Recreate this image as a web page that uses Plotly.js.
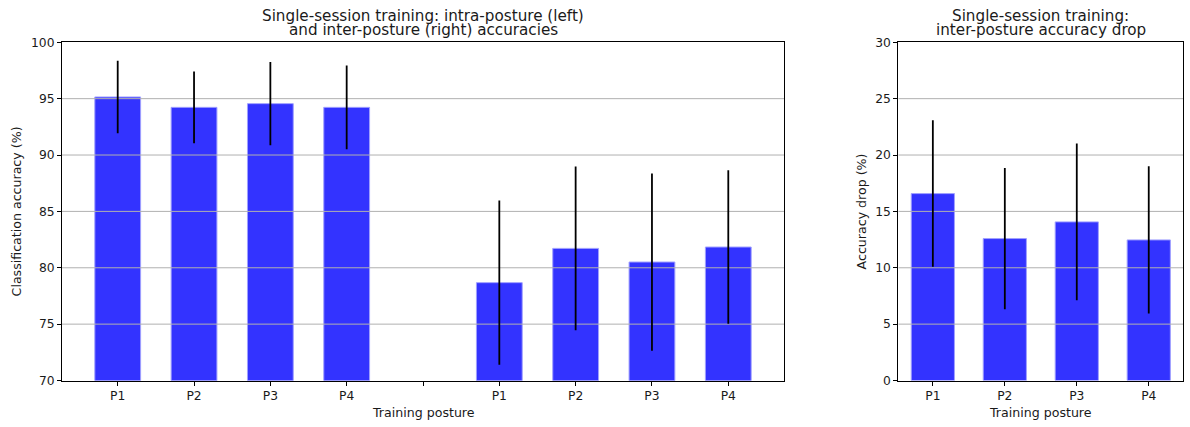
<!DOCTYPE html>
<html>
<head>
<meta charset="utf-8">
<script src="https://cdn.plot.ly/plotly-3.0.1.min.js"></script>
<style>html,body{margin:0;padding:0;background:#fff;}#chart{width:1190px;height:427px;}</style>
</head>
<body>
<div id="chart"></div>
<script>
// ---- data ----
var postures = ['P1', 'P2', 'P3', 'P4'];
var intraMean = [95.15, 94.23, 94.56, 94.23];
var intraErr  = [3.22, 3.19, 3.69, 3.72];
var interMean = [78.68, 81.72, 80.51, 81.84];
var interErr  = [7.28, 7.26, 7.86, 6.80];
var dropMean  = [16.58, 12.59, 14.07, 12.47];
var dropErr   = [6.50, 6.27, 6.96, 6.53];
var leftYTicks  = [70, 75, 80, 85, 90, 95, 100];
var rightYTicks = [0, 5, 10, 15, 20, 25, 30];
var leftTitleLines  = ['Single-session training: intra-posture (left)', 'and inter-posture (right) accuracies'];
var rightTitleLines = ['Single-session training:', 'inter-posture accuracy drop'];
var xLabel = 'Training posture';
var leftYLabel = 'Classification accuracy (%)';
var rightYLabel = 'Accuracy drop (%)';

// ---- positions derived from indices ----
var intraX = postures.map(function (_, i) { return i; });
var gapX = postures.length;                       // empty slot between groups
var interX = postures.map(function (_, i) { return i + postures.length + 1; });
var leftTickVals = intraX.concat([gapX]).concat(interX);
var leftTickText = postures.concat(['']).concat(postures);
var dropX = postures.map(function (_, i) { return i; });

var FONT = 'DejaVu Sans, sans-serif';
var barColor = '#3333ff';
var barEdge = 'rgba(160,160,255,1)';
var barW = 0.6;

function barTrace(x, y, xa, ya) {
  return {
    type: 'bar', x: x, y: y, xaxis: xa, yaxis: ya, width: barW,
    marker: { color: barColor, line: { color: barEdge, width: 1 } },
    hoverinfo: 'skip', showlegend: false
  };
}
function errTrace(x, y, e, xa, ya) {
  return {
    type: 'scatter', mode: 'markers', x: x, y: y, xaxis: xa, yaxis: ya,
    marker: { size: 1, opacity: 0 },
    error_y: { type: 'data', array: e, visible: true, color: '#000', thickness: 1.8, width: 0 },
    hoverinfo: 'skip', showlegend: false
  };
}

var traces = [
  barTrace(intraX, intraMean, 'x', 'y'),
  barTrace(interX, interMean, 'x', 'y'),
  barTrace(dropX, dropMean, 'x2', 'y2')
];

// grid lines drawn as traces so that they sit above bars but below error bars
function gridTrace(vals, range, xa, ya) {
  var xs = [], ys = [];
  vals.forEach(function (v) { xs.push(range[0], range[1], null); ys.push(v, v, null); });
  return { type: 'scatter', mode: 'lines', x: xs, y: ys, xaxis: xa, yaxis: ya,
    line: { color: '#b0b0b0', width: 1 }, hoverinfo: 'skip', showlegend: false };
}
var leftXRange = [-0.73, leftTickVals[leftTickVals.length - 1] + 0.73];
var rightXRange = [-0.48, dropX[dropX.length - 1] + 0.48];
traces.push(gridTrace(leftYTicks.slice(1, -1), leftXRange, 'x', 'y'));
traces.push(gridTrace(rightYTicks.slice(1, -1), rightXRange, 'x2', 'y2'));
traces.push(errTrace(intraX, intraMean, intraErr, 'x', 'y'));
traces.push(errTrace(interX, interMean, interErr, 'x', 'y'));
traces.push(errTrace(dropX, dropMean, dropErr, 'x2', 'y2'));

var W = 1190, H = 427;
var yDom = [1 - 380.5 / H, 1 - 42.3 / H];
var TEXT = '#1a1a1a';
var axCommon = {
  showline: true, mirror: true, linecolor: '#000', linewidth: 1,
  ticks: 'outside', ticklen: 4, tickwidth: 1, tickcolor: '#000',
  showgrid: false, zeroline: false, fixedrange: true,
  tickfont: { family: FONT, size: 12.3, color: TEXT }
};
function ax(extra) { return Object.assign({}, axCommon, extra); }

var textFont = { family: FONT, size: 12.6, color: TEXT };
var titleFont = { family: FONT, size: 15.2, color: TEXT };
var leftCx = ((62 + 784) / 2) / W, rightCx = ((898.3 + 1183.3) / 2) / W;

function ann(text, x, ypx, font, extra) {
  return Object.assign({ text: text, xref: 'paper', yref: 'paper', x: x, y: 1 - ypx / H,
    xanchor: 'center', yanchor: 'middle', showarrow: false, font: font }, extra || {});
}

var layout = {
  width: W, height: H,
  margin: { l: 0, r: 0, t: 0, b: 0 },
  paper_bgcolor: '#fff', plot_bgcolor: '#fff',
  showlegend: false, barmode: 'overlay',
  xaxis: ax({ domain: [62 / W, 784 / W], range: leftXRange, tickmode: 'array',
    tickvals: leftTickVals, ticktext: leftTickText, anchor: 'y' }),
  yaxis: ax({ domain: yDom, range: [70, 100], tickmode: 'array', tickvals: leftYTicks, anchor: 'x' }),
  xaxis2: ax({ domain: [898.3 / W, 1183.3 / W], range: rightXRange, tickmode: 'array',
    tickvals: dropX, ticktext: postures, anchor: 'y2' }),
  yaxis2: ax({ domain: yDom, range: [0, 30], tickmode: 'array', tickvals: rightYTicks, anchor: 'x2' }),
  annotations: [
    ann(leftTitleLines[0], leftCx, 15.5, titleFont),
    ann(leftTitleLines[1], leftCx, 29.8, titleFont),
    ann(rightTitleLines[0], rightCx, 15.5, titleFont),
    ann(rightTitleLines[1], rightCx, 29.8, titleFont),
    ann(xLabel, leftCx, 412, textFont),
    ann(xLabel, rightCx, 412, textFont),
    ann(leftYLabel, 16 / W, (380.5 + 42.3) / 2, textFont, { textangle: -90 }),
    ann(rightYLabel, 861 / W, (380.5 + 42.3) / 2, textFont, { textangle: -90 })
  ]
};

Plotly.newPlot('chart', traces, layout, { staticPlot: true, displayModeBar: false });
</script>
</body>
</html>
